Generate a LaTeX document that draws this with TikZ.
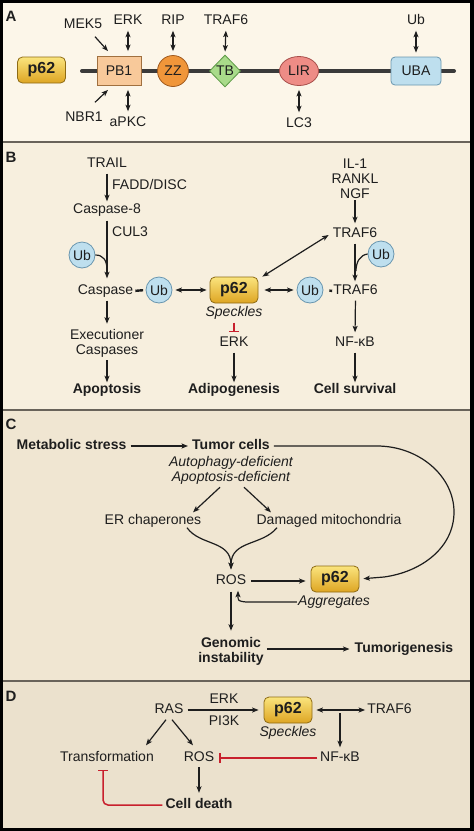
\documentclass[tikz,border=0pt]{standalone}
\usepackage{fontspec}
\setmainfont{Liberation Sans}
\usetikzlibrary{arrows.meta,shapes.geometric}
\definecolor{bgA}{RGB}{252,246,233}
\definecolor{bgB}{RGB}{247,239,222}
\definecolor{bgC}{RGB}{240,230,210}
\definecolor{bgD}{RGB}{235,225,205}
\definecolor{sepc}{RGB}{105,99,90}
\definecolor{txt}{RGB}{30,30,30}
\definecolor{inhred}{RGB}{200,32,45}
\definecolor{ubfill}{RGB}{190,223,238}
\definecolor{ubdraw}{RGB}{105,150,175}
\definecolor{pbfill}{RGB}{248,201,154}
\definecolor{pbdraw}{RGB}{160,112,63}
\definecolor{zzfill}{RGB}{240,150,58}
\definecolor{zzdraw}{RGB}{160,90,30}
\definecolor{tbfill}{RGB}{169,219,138}
\definecolor{tbdraw}{RGB}{94,154,71}
\definecolor{lirfill}{RGB}{238,140,134}
\definecolor{lirdraw}{RGB}{168,79,75}
\definecolor{ptop}{RGB}{250,228,125}
\definecolor{pbot}{RGB}{222,165,35}
\definecolor{pdraw}{RGB}{142,107,20}
\definecolor{bbc}{RGB}{58,58,58}
\begin{document}
\begin{tikzpicture}[x=1pt,y=-1pt,
  lbl/.style={font=\fontsize{14}{15}\selectfont, text=txt, inner sep=0pt, text height=10pt, text depth=3pt},
  blbl/.style={lbl, font=\fontsize{14}{15}\selectfont\bfseries},
  ilbl/.style={lbl, font=\fontsize{14}{15}\selectfont\itshape},
  mlbl/.style={font=\fontsize{14}{15}\selectfont, text=txt, inner sep=0pt, align=center},
  panel/.style={font=\fontsize{15}{16}\selectfont\bfseries, text=txt, inner sep=0pt},
  tipc/.tip={Stealth[length=6.5pt,width=5pt,inset=1.5pt]},
  arr/.style={-tipc, line width=1.2pt, draw=txt},
  darr/.style={tipc-tipc, line width=1.2pt, draw=txt},
  plain/.style={line width=1.2pt, draw=txt},
  inh/.style={-{Bar[width=10pt,line width=1.5pt]}, draw=inhred, line width=1.5pt},
  dash2/.style={line width=2.4pt, draw=txt},
  ubc/.style={circle, draw=ubdraw, fill=ubfill, line width=0.8pt, minimum size=26pt, inner sep=0pt, font=\fontsize{14}{15}\selectfont, text=txt},
  pbox/.style={rounded corners=5pt, draw=pdraw, line width=0.8pt, top color=ptop, bottom color=pbot, minimum width=48pt, minimum height=26pt, inner sep=0pt, font=\fontsize{16}{17}\selectfont\bfseries, text=txt},
  dombox/.style={line width=0.8pt, inner sep=0pt, font=\fontsize{14}{15}\selectfont, text=txt},
  backbone/.style={line width=4pt, draw=bbc, line cap=round}
]
% frame and panels
\fill[black] (0,0) rectangle (474,831);
\fill[bgA] (3,3) rectangle (470,141);
\fill[sepc] (3,141) rectangle (470,143);
\fill[bgB] (3,143) rectangle (470,409);
\fill[sepc] (3,409) rectangle (470,411);
\fill[bgC] (3,411) rectangle (470,680);
\fill[sepc] (3,680) rectangle (470,682);
\fill[bgD] (3,682) rectangle (470,828);

% ---------------- Panel A
\node[panel] (labA) at (11,16) {A};
\node[pbox] (p62A) at (41.5,70) {p62};
\coordinate (bbL) at (82,71);
\coordinate (bbR) at (454,71);
\draw[backbone] (bbL) -- (bbR);
\node[dombox, rectangle, draw=pbdraw, fill=pbfill, minimum width=44pt, minimum height=29pt] (pb1) at (119,71) {PB1};
\node[dombox, circle, draw=zzdraw, fill=zzfill, minimum size=31pt] (zz) at (173,71) {ZZ};
\node[dombox, diamond, draw=tbdraw, fill=tbfill, minimum width=31pt, minimum height=32pt] (tb) at (225,71) {TB};
\node[dombox, ellipse, draw=lirdraw, fill=lirfill, minimum width=39pt, minimum height=29pt] (lir) at (299,71) {LIR};
\node[dombox, rectangle, rounded corners=4pt, draw=ubdraw, fill=ubfill, minimum width=50pt, minimum height=28pt] (uba) at (416,71) {UBA};

\node[lbl] (mek5) at (83,25) {MEK5};
\node[lbl] (erkA) at (128,21) {ERK};
\node[lbl] (rip) at (173,21) {RIP};
\node[lbl] (traf6A) at (226,21) {TRAF6};
\node[lbl] (ubA) at (416,21) {Ub};
\node[lbl] (nbr1) at (84,118) {NBR1};
\node[lbl] (apkc) at (128,123) {aPKC};
\node[lbl] (lc3) at (299,124) {LC3};

\draw[arr] ([xshift=12pt,yshift=-5pt]mek5.south) -- ([xshift=-11pt,yshift=5pt]pb1.north);
\draw[arr] ([xshift=11pt,yshift=9pt]nbr1.north) -- ([xshift=-11pt,yshift=-4pt]pb1.south);
\draw[darr, shorten <=3pt, shorten >=5pt] (erkA.south) -- (erkA.south |- pb1.north);
\draw[darr, shorten <=4pt, shorten >=5pt] (apkc.north |- pb1.south) -- (apkc.north);
\draw[darr, shorten <=3pt, shorten >=4pt] (rip.south) -- (zz.north);
\draw[darr, shorten <=3pt, shorten >=3pt] (traf6A.south) -- (tb.north);
\draw[darr, shorten <=3pt, shorten >=4pt] (ubA.south) -- (uba.north);
\draw[darr, shorten <=4pt, shorten >=5pt] (lir.south) -- (lc3.north);

% ---------------- Panel B
\node[panel] (labB) at (11,157) {B};
\node[lbl] (trail) at (107,164) {TRAIL};
\node[lbl, anchor=west] (fadd) at (112,186) {FADD/DISC};
\node[lbl] (casp8) at (107,210) {Caspase-8};
\node[lbl, anchor=west] (cul3) at (112,233) {CUL3};
\node[ubc] (ubB1) at (82,255) {Ub};
\node[lbl] (casp) at (105.5,291) {Caspase};
\node[ubc] (ubB2) at (159,290) {Ub};
\node[pbox] (p62B) at (234,290) {p62};
\node[ilbl] (speckB) at (234,313) {Speckles};
\node[lbl] (erkB) at (234,343) {ERK};
\node[mlbl] (exec) at (107,343) {Executioner\\Caspases};
\node[blbl] (apop) at (107,390) {Apoptosis};
\node[blbl] (adipo) at (234,390) {Adipogenesis};
\node[mlbl] (il1) at (355,179) {IL-1\\RANKL\\NGF};
\node[lbl] (traf6a) at (355,234) {TRAF6};
\node[ubc] (ubB3) at (381,254) {Ub};
\node[ubc] (ubB4) at (310,290) {Ub};
\node[lbl] (traf6b) at (355.5,291) {TRAF6};
\node[lbl] (nfkbB) at (355,343) {NF-κB};
\node[blbl] (surv) at (355,390) {Cell survival};

\draw[arr, shorten <=3pt, shorten >=2pt] (trail.south) -- (casp8.north);
\draw[arr, shorten <=4pt, shorten >=6pt] (casp8.south) -- (casp8.south |- casp.north);
\coordinate (j1) at (107,270);
\draw[plain] (ubB1.east) .. controls (103,255) and (107,260) .. (j1);
\draw[dash2, shorten <=2pt, shorten >=2.5pt] (casp.east) -- (ubB2.west);
\draw[darr, shorten <=3pt, shorten >=3pt] (ubB2.east) -- (p62B.west);
\draw[inh, shorten <=3pt, shorten >=4pt] (speckB.south) -- (erkB.north);
\draw[arr, shorten <=3pt, shorten >=1pt] (erkB.south) -- (adipo.north);
\draw[arr, shorten <=3pt, shorten >=5pt] (casp.south -| exec.north) -- (exec.north);
\draw[arr, shorten <=3pt, shorten >=1pt] (exec.south) -- (apop.north);
\draw[arr, shorten <=1pt, shorten >=4pt] (il1.south) -- (traf6a.north);
\draw[darr] ([xshift=4pt]p62B.north east) -- ([xshift=-4pt,yshift=-1pt]traf6a.west);
\draw[arr, shorten <=3pt, shorten >=3pt] (traf6a.south) -- (traf6a.south |- traf6b.north);
\coordinate (j2) at (356,271);
\draw[plain] (ubB3.west) .. controls (360,255) and (356,262) .. (j2);
\draw[darr, shorten <=6pt, shorten >=3pt] (p62B.east) -- (ubB4.west);
\draw[dash2, shorten <=6pt, shorten >=1pt] (ubB4.east) -- (traf6b.west);
\draw[arr, shorten <=3pt, shorten >=4pt] (traf6b.south) -- (nfkbB.north);
\draw[arr, shorten <=3pt, shorten >=1pt] (nfkbB.south) -- (surv.north);

% ---------------- Panel C
\node[panel] (labC) at (11,424) {C};
\node[blbl] (metab) at (71.5,446) {Metabolic stress};
\node[blbl] (tumor) at (231,446) {Tumor cells};
\node[mlbl, font=\fontsize{14}{15}\selectfont\itshape] (auto) at (231,470) {Autophagy-deficient\\Apoptosis-deficient};
\node[lbl] (erc) at (153,521) {ER chaperones};
\node[lbl] (dmito) at (329,521) {Damaged mitochondria};
\node[lbl] (rosC) at (231,581) {ROS};
\node[pbox] (p62C) at (335,579) {p62};
\node[ilbl] (aggr) at (334,602) {Aggregates};
\node[mlbl, font=\fontsize{14}{15}\selectfont\bfseries] (genomic) at (231,651) {Genomic\\instability};
\node[blbl] (tumorig) at (404,649) {Tumorigenesis};

\draw[arr, shorten <=4pt, shorten >=4pt] (metab.east) -- (tumor.west);
\draw[arr] ([xshift=-11pt,yshift=-3pt]auto.south) -- ([xshift=40pt,yshift=2pt]erc.north);
\draw[arr] ([xshift=13pt,yshift=-3pt]auto.south) -- ([xshift=-58pt,yshift=2pt]dmito.north);
\draw[arr, shorten >=5pt] ([xshift=34pt]erc.south) .. controls (200,546) and (231,540) .. (rosC.north);
\draw[arr, shorten >=5pt] ([xshift=-52pt]dmito.south) .. controls (262,546) and (231,540) .. (rosC.north);
\draw[arr, shorten <=5pt, shorten >=5pt] (rosC.east) -- (rosC.east -| p62C.west);
\draw[arr] ([xshift=-1pt]aggr.west) -- ++(-51,0) .. controls (238,601) .. ([xshift=7pt,yshift=-3pt]rosC.south);
\draw[arr, shorten <=4pt, shorten >=6pt] (rosC.south) -- (genomic.north);
\draw[arr, shorten <=3pt, shorten >=5pt] (tumorig.west -| genomic.east) -- (tumorig.west);
\draw[arr, shorten >=4pt] ([xshift=4pt]tumor.east) -- (377,446)
   .. controls (419,446) and (454,476) .. (454,512)
   .. controls (454,548) and (421,572) .. (384,577) -- (p62C.east);

% ---------------- Panel D
\node[panel] (labD) at (11,696) {D};
\node[lbl] (rasD) at (169,710) {RAS};
\node[pbox] (p62D) at (288,710) {p62};
\node[ilbl] (speckD) at (288,733) {Speckles};
\node[lbl] (erkD) at (224,700) {ERK};
\node[lbl] (pi3k) at (224,722) {PI3K};
\node[lbl] (traf6D) at (389.5,710) {TRAF6};
\node[lbl] (nfkbD) at (340,758) {NF-κB};
\node[lbl] (rosD) at (199,758) {ROS};
\node[lbl] (trans) at (107,758) {Transformation};
\node[blbl] (death) at (199,805) {Cell death};

\draw[arr, shorten <=4pt, shorten >=5pt] (rasD.east) -- (p62D.west);
\draw[darr, shorten <=4pt, shorten >=2pt] (p62D.east) -- (traf6D.west);
\coordinate (br) at (340,710);
\draw[arr, shorten <=3pt, shorten >=4pt] (br) -- (nfkbD.north);
\draw[inh, shorten <=2.5pt, shorten >=5pt] (nfkbD.west) -- (rosD.east);
\draw[arr] ([xshift=-3pt,yshift=-3pt]rasD.south) -- ([xshift=39pt,yshift=6pt]trans.north);
\draw[arr] ([xshift=3pt,yshift=-3pt]rasD.south) -- ([xshift=-6pt,yshift=6pt]rosD.north);
\draw[arr, shorten <=2.5pt, shorten >=5.5pt] (rosD.south) -- (death.north);
\draw[inh, rounded corners=5pt] ([xshift=-3pt]death.west) -| ([xshift=-4pt,yshift=-5pt]trans.south);
\end{tikzpicture}
\end{document}
